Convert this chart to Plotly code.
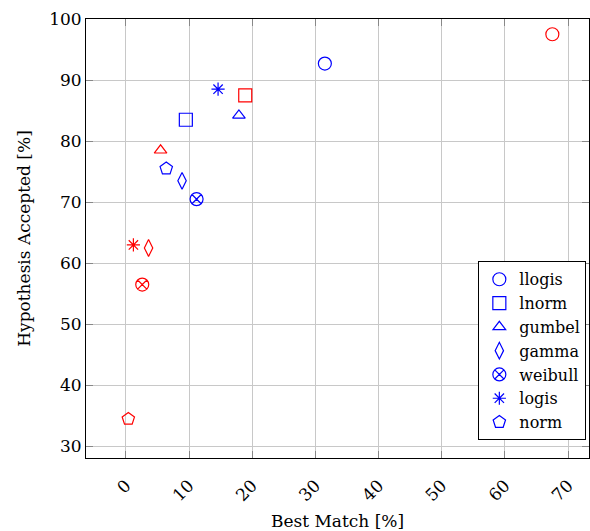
import plotly.graph_objects as go

names = ["llogis", "lnorm", "gumbel", "gamma", "weibull", "logis", "norm"]
symbols = ["circle-open", "square-open", "triangle-up-open", "diamond-tall-open",
           "circle-x-open", "asterisk-open", "pentagon-open"]

blue_x = [31.5, 9.5, 17.9, 8.9, 11.2, 14.6, 6.4]
blue_y = [92.7, 83.5, 84.2, 73.5, 70.5, 88.5, 75.5]
red_x = [67.5, 18.9, 5.5, 3.6, 2.6, 1.2, 0.4]
red_y = [97.5, 87.5, 78.5, 62.5, 56.5, 63.0, 34.5]

x_ticks = [0, 10, 20, 30, 40, 50, 60, 70]
y_ticks = [30, 40, 50, 60, 70, 80, 90, 100]

font_family = "DejaVu Serif"
sizes = [13, 13, 11, 12, 13, 11, 13]

fig = go.Figure()
for i, n in enumerate(names):
    fig.add_trace(go.Scatter(
        x=[red_x[i]], y=[red_y[i]], mode="markers", name=n, showlegend=False,
        marker=dict(symbol=symbols[i], size=sizes[i], color="red",
                    line=dict(color="red", width=1.2))))
for i, n in enumerate(names):
    fig.add_trace(go.Scatter(
        x=[blue_x[i]], y=[blue_y[i]], mode="markers", name=n,
        marker=dict(symbol=symbols[i], size=sizes[i], color="blue",
                    line=dict(color="blue", width=1.2))))

axis_common = dict(
    showgrid=True, gridcolor="#c8c8c8", gridwidth=1,
    showline=True, linecolor="black", linewidth=1, mirror="allticks",
    ticks="inside", ticklen=7, tickcolor="#888888", tickwidth=1,
    zeroline=False,
    tickfont=dict(family=font_family, size=17, color="black"),
)

fig.update_xaxes(range=[-6.3, 73.3], tickvals=x_ticks, tickangle=-45,
                 ticklabelstandoff=10,
                 title=dict(text="Best Match [%]",
                            font=dict(family=font_family, size=17, color="black"),
                            standoff=14),
                 **axis_common)
fig.update_yaxes(range=[28.1, 100], tickvals=y_ticks,
                 title=dict(text="Hypothesis Accepted [%]",
                            font=dict(family=font_family, size=17, color="black"),
                            standoff=14),
                 **axis_common)

fig.update_layout(
    width=590, height=531,
    margin=dict(l=86, r=1, t=19, b=73),
    plot_bgcolor="white", paper_bgcolor="white",
    font=dict(family=font_family, color="black"),
    legend=dict(x=0.78, y=0.448, xanchor="left", yanchor="top",
                bgcolor="white", bordercolor="black", borderwidth=1,
                font=dict(family=font_family, size=16, color="black"),
                tracegroupgap=0, itemsizing="trace", itemwidth=30),
)

fig.write_html("out.html")
